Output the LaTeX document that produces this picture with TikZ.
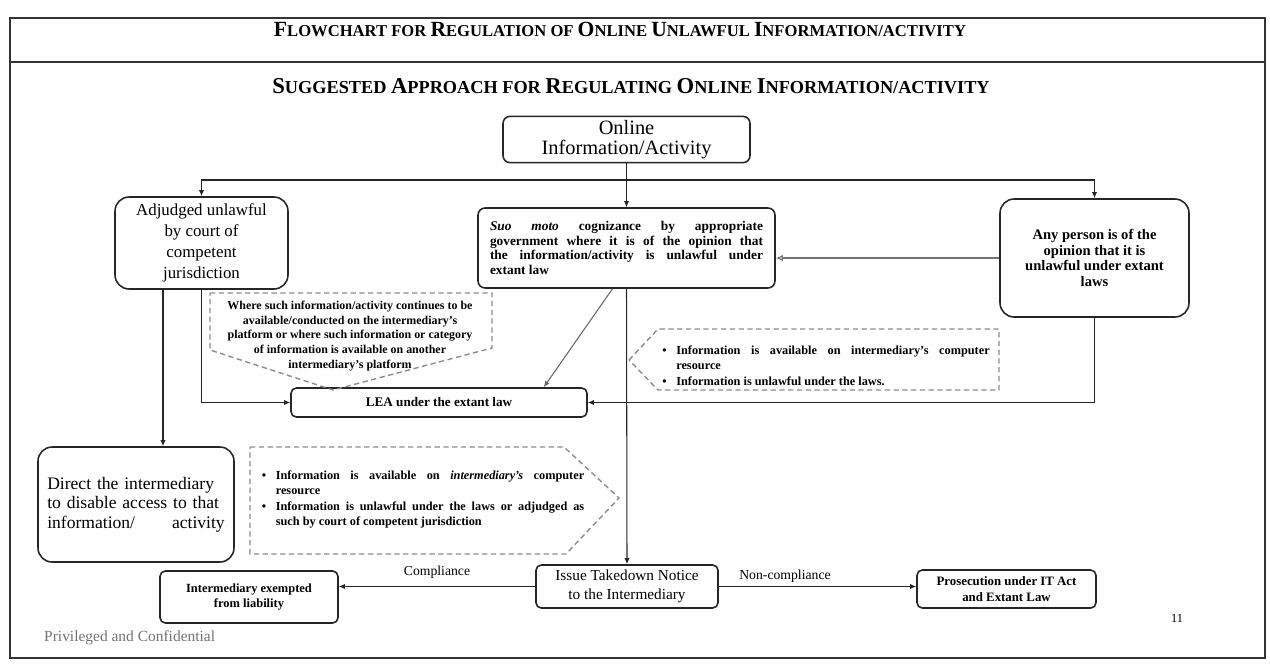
\documentclass[tikz,border=0pt]{standalone}
\usepackage{fontspec}
\setmainfont{Liberation Serif}
\usepackage{tikz}
\usetikzlibrary{arrows.meta,positioning,calc}
\tikzset{
  box/.style = {rectangle, draw=black!85, line width=0.9pt, rounded corners=4pt, align=center, inner sep=2pt},
  bigbox/.style = {box, rounded corners=8pt},
  smallbox/.style = {box, rounded corners=3pt},
  callout/.style = {draw=black!45, dash pattern=on 3pt off 2pt, line width=0.8pt},
  link/.style = {draw=black!85, line width=0.6pt, -{Latex[length=3.5pt,width=3pt]}},
  greylink/.style = {draw=black!55, line width=0.6pt, -{Latex[open,length=4pt,width=3.5pt]}},
  note/.style = {align=justify, font=\bfseries\fontsize{7}{8.9}\selectfont},
}
\newcommand{\capl}[1]{{\fontsize{12.3}{13}\selectfont #1}}
\newcommand{\capm}[1]{{\fontsize{12.9}{14}\selectfont #1}}
\newcommand{\bul}[1]{\par\noindent\hangindent=0.28cm\hangafter=1\makebox[0.28cm][l]{\textbullet}#1\par}

\begin{document}
\begin{tikzpicture}[x=0.02cm,y=-0.02cm,font=\rmfamily]
  \useasboundingbox (0,0) rectangle (1270,666);
  \draw[black!80, line width=0.8pt] (10,18) rectangle (1265,658);
  \draw[black!80, line width=0.8pt] (10,62) -- (1265,62);

  \node[font=\bfseries\fontsize{9.45}{11}\selectfont] (title) at (620,29)
    {\capl{F}LOWCHART FOR \capl{R}EGULATION OF \capl{O}NLINE \capl{U}NLAWFUL \capl{I}NFORMATION/ACTIVITY};
  \node[font=\bfseries\fontsize{10.4}{12}\selectfont] (subtitle) at (631,86)
    {\capm{S}UGGESTED \capm{A}PPROACH FOR \capm{R}EGULATING \capm{O}NLINE \capm{I}NFORMATION/ACTIVITY};

  \node[box, minimum width=4.94cm, minimum height=0.9cm, font=\fontsize{11.6}{11.8}\selectfont] (online) at (626.5,139.5)
    {Online\\Information/Activity};
  \node[bigbox, minimum width=3.46cm, minimum height=1.84cm, font=\fontsize{9.6}{12}\selectfont] (adjudged) at (201.5,243)
    {Adjudged unlawful\\by court of\\competent\\jurisdiction};
  \node[box, minimum width=5.94cm, minimum height=1.6cm, text width=5.46cm, align=justify, font=\bfseries\fontsize{7.6}{8.3}\selectfont] (sumoto) at (626.5,248)
    {\textit{Suo moto} cognizance by appropriate\linebreak government where it is of the opinion that\linebreak the information/activity is unlawful under\linebreak extant law};
  \node[bigbox, minimum width=3.78cm, minimum height=2.36cm, font=\bfseries\fontsize{8.3}{9}\selectfont] (anyperson) at (1094.5,258)
    {Any person is of the\\opinion that it is\\unlawful under extant\\laws};
  \node[smallbox, minimum width=5.92cm, minimum height=0.58cm, font=\bfseries\fontsize{7.5}{9}\selectfont] (lea) at (439,402.5)
    {LEA under the extant law};
  \node[bigbox, minimum width=3.92cm, minimum height=2.3cm, text width=3.55cm, align=left, font=\fontsize{10}{11}\selectfont] (direct) at (136,504.5)
    {Direct the intermediary\\to disable access to that\\information/\hfill activity};
  \node[smallbox, minimum width=3.64cm, minimum height=0.86cm, font=\fontsize{8.7}{11}\selectfont] (takedown) at (627,586.5)
    {Issue Takedown Notice\\to the Intermediary};
  \node[smallbox, minimum width=3.56cm, minimum height=1.04cm, font=\bfseries\fontsize{7.1}{8.6}\selectfont] (exempt) at (249,597)
    {Intermediary exempted\\from liability};
  \node[smallbox, minimum width=3.58cm, minimum height=0.76cm, font=\bfseries\fontsize{7.3}{9}\selectfont] (prosecute) at (1006.5,589)
    {Prosecution under IT Act\\and Extant Law};

  \draw[callout] (210,293) -- (492,293) -- (492,348) -- (333,390) -- (210,350) -- cycle;
  \node[align=center, font=\bfseries\fontsize{6.8}{8.3}\selectfont] (note1) at (350,336)
    {Where such information/activity continues to be\\available/conducted on the intermediary's\\platform or where such information or category\\of information is available on another\\intermediary's platform};
  \draw[callout] (250,447) -- (564,447) -- (619,498) -- (566,554) -- (250,554) -- cycle;
  \node[note, text width=6.45cm] (note2) at (423,496)
    {\bul{Information is available on \textit{intermediary's} computer\linebreak resource}
     \bul{Information is unlawful under the laws or adjudged as\linebreak such by court of competent jurisdiction}};
  \draw[callout] (629,360) -- (658,329) -- (999,329) -- (999,390) -- (658,390) -- cycle;
  \node[note, text width=6.55cm] (note3) at (826,362)
    {\bul{Information is available on intermediary's computer\linebreak resource}
     \bul{Information is unlawful under the laws.}};

  \coordinate (split) at (626.5,180);
  \coordinate (adjleft) at (163,289);
  \draw[link] (online) -- (sumoto);
  \draw[link] (split) -| (adjudged.north);
  \draw[link] (split) -| (anyperson.north);
  \draw[link] (adjudged.south) |- (lea.west);
  \draw[link] (adjleft) -- (adjleft |- direct.north);
  \draw[link] (anyperson.south) |- (lea.east);
  \draw[greylink] (anyperson.west) -- (anyperson.west -| sumoto.east);
  \draw[link, draw=black!60] ($(sumoto.south)+(-14,0)$) -- ($(lea.north east)+(-44,0)$);
  \draw[link] (sumoto.south) -- (takedown.north);
  \draw[link] (takedown.west) -- node[above=1pt, font=\fontsize{7.8}{9}\selectfont] (comply) {Compliance} (takedown.west -| exempt.east);
  \draw[link] (takedown.east) -- (takedown.east -| prosecute.west);
  \node[font=\fontsize{7.8}{9}\selectfont] (noncomply) at (785,576) {Non-compliance};

  \node[font=\fontsize{7}{8}\selectfont] (page) at (1177,618) {11};
  \node[anchor=west, text=black!55, font=\fontsize{8.8}{10}\selectfont] (footer) at (38,638) {Privileged and Confidential};
\end{tikzpicture}
\end{document}
